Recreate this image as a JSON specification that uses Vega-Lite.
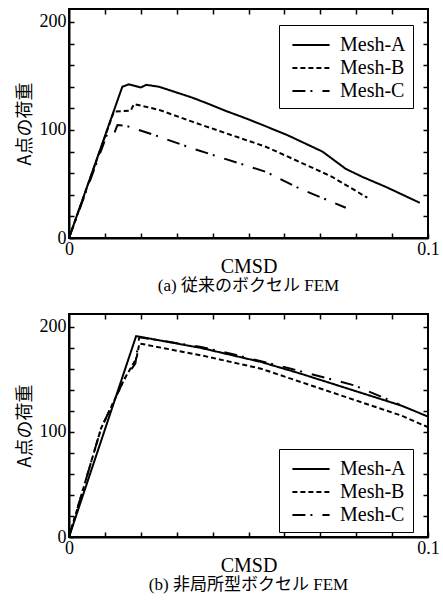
{
  "$schema": "https://vega.github.io/schema/vega-lite/v6.json",
  "padding": {"left": 15, "top": 7, "right": 2, "bottom": 5},
  "background": "white",
  "config": {
    "view": {"stroke": "black", "strokeWidth": 2},
    "font": "Liberation Serif",
    "axis": {"grid": false, "domainColor": "black", "domainWidth": 2, "tickColor": "black", "tickWidth": 1.5, "tickSize": -5, "labelFont": "Liberation Serif", "labelFontSize": 18, "labelColor": "black", "titleColor": "black", "titleFontWeight": "normal", "labelFlush": false, "labelOverlap": false},
    "legend": {"symbolOffset": 12}
  },
  "datasets": {
    "a": [
      {"mesh": "Mesh-A", "cmsd": 0, "load": 0},
      {"mesh": "Mesh-A", "cmsd": 0.01485, "load": 140},
      {"mesh": "Mesh-A", "cmsd": 0.0167, "load": 142.3},
      {"mesh": "Mesh-A", "cmsd": 0.02, "load": 139.3},
      {"mesh": "Mesh-A", "cmsd": 0.0215, "load": 141.8},
      {"mesh": "Mesh-A", "cmsd": 0.0251, "load": 140},
      {"mesh": "Mesh-A", "cmsd": 0.0343, "load": 130},
      {"mesh": "Mesh-A", "cmsd": 0.039, "load": 124},
      {"mesh": "Mesh-A", "cmsd": 0.0437, "load": 117.6},
      {"mesh": "Mesh-A", "cmsd": 0.0483, "load": 112},
      {"mesh": "Mesh-A", "cmsd": 0.0529, "load": 106},
      {"mesh": "Mesh-A", "cmsd": 0.0608, "load": 95.3},
      {"mesh": "Mesh-A", "cmsd": 0.0706, "load": 80},
      {"mesh": "Mesh-A", "cmsd": 0.0771, "load": 64},
      {"mesh": "Mesh-A", "cmsd": 0.0817, "load": 56.6},
      {"mesh": "Mesh-A", "cmsd": 0.0882, "load": 47.4},
      {"mesh": "Mesh-A", "cmsd": 0.0977, "load": 32.6},
      {"mesh": "Mesh-B", "cmsd": 0, "load": 0},
      {"mesh": "Mesh-B", "cmsd": 0.0125, "load": 117},
      {"mesh": "Mesh-B", "cmsd": 0.0172, "load": 118},
      {"mesh": "Mesh-B", "cmsd": 0.0181, "load": 124},
      {"mesh": "Mesh-B", "cmsd": 0.0251, "load": 118.6},
      {"mesh": "Mesh-B", "cmsd": 0.0343, "load": 107.7},
      {"mesh": "Mesh-B", "cmsd": 0.0437, "load": 97},
      {"mesh": "Mesh-B", "cmsd": 0.0548, "load": 84.5},
      {"mesh": "Mesh-B", "cmsd": 0.0641, "load": 70.6},
      {"mesh": "Mesh-B", "cmsd": 0.0733, "load": 56.6},
      {"mesh": "Mesh-B", "cmsd": 0.0831, "load": 37.3},
      {"mesh": "Mesh-C", "cmsd": 0, "load": 0},
      {"mesh": "Mesh-C", "cmsd": 0.0107, "load": 96.8},
      {"mesh": "Mesh-C", "cmsd": 0.0125, "load": 96},
      {"mesh": "Mesh-C", "cmsd": 0.0135, "load": 104.6},
      {"mesh": "Mesh-C", "cmsd": 0.0158, "load": 104},
      {"mesh": "Mesh-C", "cmsd": 0.0251, "load": 93.8},
      {"mesh": "Mesh-C", "cmsd": 0.0343, "load": 83},
      {"mesh": "Mesh-C", "cmsd": 0.0437, "load": 73},
      {"mesh": "Mesh-C", "cmsd": 0.0548, "load": 61.3},
      {"mesh": "Mesh-C", "cmsd": 0.0641, "load": 46},
      {"mesh": "Mesh-C", "cmsd": 0.0771, "load": 28}
    ],
    "b": [
      {"mesh": "Mesh-A", "cmsd": 0, "load": 0},
      {"mesh": "Mesh-A", "cmsd": 0.0187, "load": 191},
      {"mesh": "Mesh-A", "cmsd": 0.0368, "load": 179.7},
      {"mesh": "Mesh-A", "cmsd": 0.0535, "load": 166.4},
      {"mesh": "Mesh-A", "cmsd": 0.0646, "load": 155.2},
      {"mesh": "Mesh-A", "cmsd": 0.0925, "load": 125},
      {"mesh": "Mesh-A", "cmsd": 0.1, "load": 114.5},
      {"mesh": "Mesh-B", "cmsd": 0, "load": 0},
      {"mesh": "Mesh-B", "cmsd": 0.0089, "load": 103},
      {"mesh": "Mesh-B", "cmsd": 0.0154, "load": 150},
      {"mesh": "Mesh-B", "cmsd": 0.0188, "load": 170},
      {"mesh": "Mesh-B", "cmsd": 0.0196, "load": 184},
      {"mesh": "Mesh-B", "cmsd": 0.0368, "load": 172.7},
      {"mesh": "Mesh-B", "cmsd": 0.0535, "load": 160},
      {"mesh": "Mesh-B", "cmsd": 0.0646, "load": 147.3},
      {"mesh": "Mesh-B", "cmsd": 0.0925, "load": 115.5},
      {"mesh": "Mesh-B", "cmsd": 0.1, "load": 104.4},
      {"mesh": "Mesh-C", "cmsd": 0, "load": 0},
      {"mesh": "Mesh-C", "cmsd": 0.0089, "load": 103},
      {"mesh": "Mesh-C", "cmsd": 0.0154, "load": 150},
      {"mesh": "Mesh-C", "cmsd": 0.0185, "load": 165},
      {"mesh": "Mesh-C", "cmsd": 0.0193, "load": 185},
      {"mesh": "Mesh-C", "cmsd": 0.0196, "load": 190},
      {"mesh": "Mesh-C", "cmsd": 0.0368, "load": 180.6},
      {"mesh": "Mesh-C", "cmsd": 0.0451, "load": 174.3},
      {"mesh": "Mesh-C", "cmsd": 0.0618, "load": 160},
      {"mesh": "Mesh-C", "cmsd": 0.0795, "load": 144.1},
      {"mesh": "Mesh-C", "cmsd": 0.0897, "load": 129.5},
      {"mesh": "Mesh-C", "cmsd": 0.092, "load": 126}
    ]
  },
  "resolve": {"scale": {"strokeDash": "independent"}, "legend": {"strokeDash": "independent"}},
  "spacing": 17,
  "vconcat": [
    {
      "width": 359,
      "height": 229,
      "data": {"name": "a"},
      "title": {"text": "(a) 従来のボクセル FEM", "orient": "bottom", "font": "Liberation Serif, Noto Sans CJK JP", "fontSize": 17, "fontWeight": "normal", "color": "black", "offset": 2},
      "resolve": {"axis": {"x": "independent", "y": "independent"}},
      "layer": [
        {
          "mark": {"type": "line", "color": "black", "strokeWidth": 2},
          "encoding": {
            "x": {"field": "cmsd", "type": "quantitative", "scale": {"domain": [0, 0.1], "nice": false, "zero": false},
              "axis": {"title": "CMSD", "titleFont": "Liberation Serif", "titleFontSize": 20, "titlePadding": -2, "values": [0, 0.01, 0.02, 0.03, 0.04, 0.05, 0.06, 0.07, 0.08, 0.09, 0.1], "labelExpr": "datum.value == 0 ? '0' : (abs(datum.value - 0.1) < 1e-9 ? '0.1' : '')", "labelPadding": 7}},
            "y": {"field": "load", "type": "quantitative", "scale": {"domain": [0, 212], "nice": false},
              "axis": {"title": "A点の荷重", "titleFont": "Noto Sans CJK JP", "titleFontSize": 18, "titlePadding": 5, "values": [0, 20, 40, 60, 80, 100, 120, 140, 160, 180, 200], "labelExpr": "datum.value % 100 == 0 ? datum.value : ''", "labelPadding": 8}},
            "strokeDash": {"field": "mesh", "type": "nominal",
              "scale": {"domain": ["Mesh-A", "Mesh-B", "Mesh-C"], "range": [[1, 0], [5, 3], [13, 5, 2, 10]]},
              "legend": {"title": null, "orient": "none", "legendX": 210, "legendY": 16, "strokeColor": "black", "fillColor": "white", "padding": 7, "symbolType": "M-1.55,0H1.55", "symbolSize": 576, "symbolStrokeWidth": 2, "symbolStrokeColor": "black", "symbolFillColor": "transparent", "labelFont": "Liberation Serif", "labelFontSize": 20, "labelColor": "black", "rowPadding": 0, "labelOffset": 16}}
          }
        },
        {
          "mark": {"type": "line", "opacity": 0},
          "encoding": {
            "x": {"field": "cmsd", "type": "quantitative", "axis": {"orient": "top", "domain": false, "title": null, "labels": false, "values": [0.01, 0.02, 0.03, 0.04, 0.05, 0.06, 0.07, 0.08, 0.09]}},
            "y": {"field": "load", "type": "quantitative", "axis": {"orient": "right", "domain": false, "title": null, "labels": false, "values": [20, 40, 60, 80, 100, 120, 140, 160, 180, 200]}},
            "detail": {"field": "mesh"}
          }
        }
      ]
    },
    {
      "width": 359,
      "height": 223,
      "data": {"name": "b"},
      "title": {"text": "(b) 非局所型ボクセル FEM", "orient": "bottom", "font": "Liberation Serif, Noto Sans CJK JP", "fontSize": 17, "fontWeight": "normal", "color": "black", "offset": 2},
      "resolve": {"axis": {"x": "independent", "y": "independent"}},
      "layer": [
        {
          "mark": {"type": "line", "color": "black", "strokeWidth": 2},
          "encoding": {
            "x": {"field": "cmsd", "type": "quantitative", "scale": {"domain": [0, 0.1], "nice": false, "zero": false},
              "axis": {"title": "CMSD", "titleFont": "Liberation Serif", "titleFontSize": 20, "titlePadding": -2, "values": [0, 0.01, 0.02, 0.03, 0.04, 0.05, 0.06, 0.07, 0.08, 0.09, 0.1], "labelExpr": "datum.value == 0 ? '0' : (abs(datum.value - 0.1) < 1e-9 ? '0.1' : '')", "labelPadding": 7}},
            "y": {"field": "load", "type": "quantitative", "scale": {"domain": [0, 212], "nice": false},
              "axis": {"title": "A点の荷重", "titleFont": "Noto Sans CJK JP", "titleFontSize": 18, "titlePadding": 5, "values": [0, 20, 40, 60, 80, 100, 120, 140, 160, 180, 200], "labelExpr": "datum.value % 100 == 0 ? datum.value : ''", "labelPadding": 8}},
            "strokeDash": {"field": "mesh", "type": "nominal",
              "scale": {"domain": ["Mesh-A", "Mesh-B", "Mesh-C"], "range": [[1, 0], [5, 3], [13, 5, 2, 10]]},
              "legend": {"title": null, "orient": "none", "legendX": 210, "legendY": 135, "strokeColor": "black", "fillColor": "white", "padding": 7, "symbolType": "M-1.55,0H1.55", "symbolSize": 576, "symbolStrokeWidth": 2, "symbolStrokeColor": "black", "symbolFillColor": "transparent", "labelFont": "Liberation Serif", "labelFontSize": 20, "labelColor": "black", "rowPadding": 0, "labelOffset": 16}}
          }
        },
        {
          "mark": {"type": "line", "opacity": 0},
          "encoding": {
            "x": {"field": "cmsd", "type": "quantitative", "axis": {"orient": "top", "domain": false, "title": null, "labels": false, "values": [0.01, 0.02, 0.03, 0.04, 0.05, 0.06, 0.07, 0.08, 0.09]}},
            "y": {"field": "load", "type": "quantitative", "axis": {"orient": "right", "domain": false, "title": null, "labels": false, "values": [20, 40, 60, 80, 100, 120, 140, 160, 180, 200]}},
            "detail": {"field": "mesh"}
          }
        }
      ]
    }
  ]
}
